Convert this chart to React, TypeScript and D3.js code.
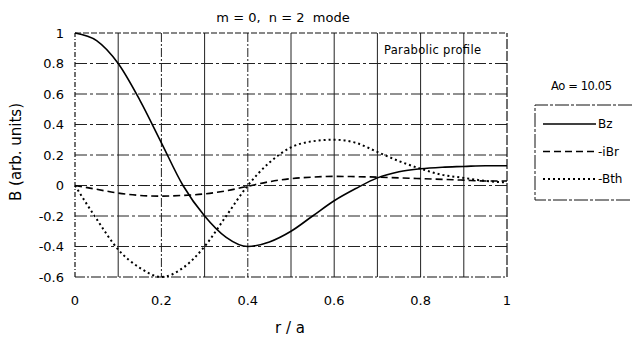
import React, {useEffect, useRef} from "react";
import * as d3 from "d3";

// r/a sample positions and field profiles
const rValues = [0, 0.05, 0.1, 0.15, 0.2, 0.25, 0.3, 0.35, 0.4, 0.45, 0.5, 0.55, 0.6, 0.65, 0.7, 0.75, 0.8, 0.85, 0.9, 0.95, 1];
const bz = [1, 0.95, 0.8, 0.56, 0.28, 0.0, -0.2, -0.34, -0.4, -0.37, -0.3, -0.2, -0.1, -0.02, 0.05, 0.09, 0.11, 0.12, 0.125, 0.13, 0.13];
const br = [0, -0.025, -0.05, -0.065, -0.07, -0.065, -0.055, -0.035, -0.005, 0.025, 0.045, 0.055, 0.06, 0.058, 0.055, 0.05, 0.045, 0.04, 0.035, 0.03, 0.03];
const bth = [0, -0.22, -0.42, -0.54, -0.6, -0.54, -0.4, -0.2, 0.0, 0.15, 0.25, 0.29, 0.3, 0.28, 0.22, 0.16, 0.11, 0.07, 0.05, 0.03, 0.02];

const xTicks = [0, 0.2, 0.4, 0.6, 0.8, 1];
const yTicks = [-0.6, -0.4, -0.2, 0, 0.2, 0.4, 0.6, 0.8, 1];
const xGrid = [0.1, 0.2, 0.3, 0.4, 0.5, 0.6, 0.7, 0.8, 0.9];

const seriesNames = ["Bz", "iBr", "Bth"];
const seriesDash = ["none", "7,4", "2,3"];
const seriesWidth = [1.6, 1.6, 2];

const font = "DejaVu Sans, sans-serif";

const App: React.FC = () => {
    const svgRef = useRef<SVGSVGElement>(null);
    const width = 632;
    const height = 340;

    useEffect(() => {
        const svg = d3.select(svgRef.current);
        svg.selectAll("*").remove();

        const x = d3.scaleLinear().domain([0, 1]).range([75, 507]);
        const y = d3.scaleLinear().domain([-0.6, 1]).range([277, 33]);

        const g = svg.append("g");

        // grid
        g.selectAll(".vgrid")
            .data(xGrid)
            .join("line")
            .attr("x1", d => x(d)).attr("x2", d => x(d))
            .attr("y1", y(1)).attr("y2", y(-0.6))
            .attr("stroke", "#222")
            .attr("stroke-width", 1)
            .attr("stroke-dasharray", d => (Math.round(d * 10) % 2 === 1 || d > 0.45 ? "none" : "9,2,2,2"));

        g.selectAll(".hgrid")
            .data(yTicks.filter(d => d > -0.6 && d < 1))
            .join("line")
            .attr("x1", x(0)).attr("x2", x(1))
            .attr("y1", d => y(d)).attr("y2", d => y(d))
            .attr("stroke", "#222")
            .attr("stroke-width", 1)
            .attr("stroke-dasharray", "12,3,3,3");

        // frame
        const frame = [
            [0, 1, 1, 1, "6,2"],
            [0, -0.6, 1, -0.6, "10,2,2,2"],
            [0, -0.6, 0, 1, "5,2,1,2"],
            [1, -0.6, 1, 1, "10,2"],
        ] as [number, number, number, number, string][];
        g.selectAll(".frame")
            .data(frame)
            .join("line")
            .attr("x1", d => x(d[0])).attr("y1", d => y(d[1]))
            .attr("x2", d => x(d[2])).attr("y2", d => y(d[3]))
            .attr("stroke", "#111")
            .attr("stroke-width", 1.2)
            .attr("stroke-dasharray", d => d[4]);

        // tick labels
        g.selectAll(".ylab")
            .data(yTicks)
            .join("text")
            .attr("x", 64)
            .attr("y", d => y(d))
            .attr("dy", "0.35em")
            .attr("text-anchor", "end")
            .attr("font-family", font)
            .attr("font-size", 13)
            .text(d => String(+d.toFixed(1)));

        g.selectAll(".xlab")
            .data(xTicks)
            .join("text")
            .attr("x", d => x(d))
            .attr("y", 300)
            .attr("dy", "0.35em")
            .attr("text-anchor", "middle")
            .attr("font-family", font)
            .attr("font-size", 13)
            .text(d => String(+d.toFixed(1)));

        // axis titles
        g.append("text")
            .attr("x", 290).attr("y", 328).attr("dy", "0.35em")
            .attr("text-anchor", "middle")
            .attr("font-family", font).attr("font-size", 15)
            .text("r / a");

        g.append("text")
            .attr("transform", "translate(16,152) rotate(-90)")
            .attr("dy", "0.35em")
            .attr("text-anchor", "middle")
            .attr("font-family", font).attr("font-size", 15)
            .text("B (arb. units)");

        g.append("text")
            .attr("x", 283).attr("y", 17).attr("dy", "0.35em")
            .attr("text-anchor", "middle")
            .attr("font-family", font).attr("font-size", 13)
            .style("white-space", "pre")
            .text("m = 0,  n = 2  mode");

        g.append("text")
            .attr("x", 384).attr("y", 50).attr("dy", "0.35em")
            .attr("font-family", font).attr("font-size", 11.5)
            .attr("textLength", 97)
            .text("Parabolic profile");

        // curves
        const series = [bz, br, bth];
        const line = d3.line<number>()
            .x((_, i) => x(rValues[i]))
            .y(d => y(d))
            .curve(d3.curveMonotoneX);

        g.selectAll(".curve")
            .data(series)
            .join("path")
            .attr("d", d => line(d))
            .attr("fill", "none")
            .attr("stroke", "#000")
            .attr("stroke-width", (_, i) => seriesWidth[i])
            .attr("stroke-dasharray", (_, i) => seriesDash[i]);

        // legend
        const lg = svg.append("g");
        lg.append("text")
            .attr("x", 551).attr("y", 86).attr("dy", "0.35em")
            .attr("font-family", font).attr("font-size", 11.5)
            .attr("textLength", 61)
            .text("Ao = 10.05");

        lg.append("path")
            .attr("d", "M632,105H535V200H632")
            .attr("fill", "none")
            .attr("stroke", "#111")
            .attr("stroke-width", 1)
            .attr("stroke-dasharray", "14,2,3,2");

        const legendY = d3.scalePoint<string>().domain(seriesNames).range([124, 179]);
        const items = lg.selectAll(".item")
            .data(seriesNames)
            .join("g")
            .attr("transform", d => `translate(0,${legendY(d)})`);

        items.append("line")
            .attr("x1", 543).attr("x2", 596)
            .attr("stroke", "#000")
            .attr("stroke-width", (_, i) => seriesWidth[i])
            .attr("stroke-dasharray", (_, i) => seriesDash[i]);

        items.append("text")
            .attr("x", 598).attr("dy", "0.35em")
            .attr("font-family", font).attr("font-size", 12)
            .text((d, i) => (i === 0 ? d : "-" + d));
    }, []);

    return (
        <svg ref={svgRef} width={width} height={height}
             style={{position: "absolute", left: 0, top: 0, background: "#fff"}}></svg>
    );
};

export default App;
